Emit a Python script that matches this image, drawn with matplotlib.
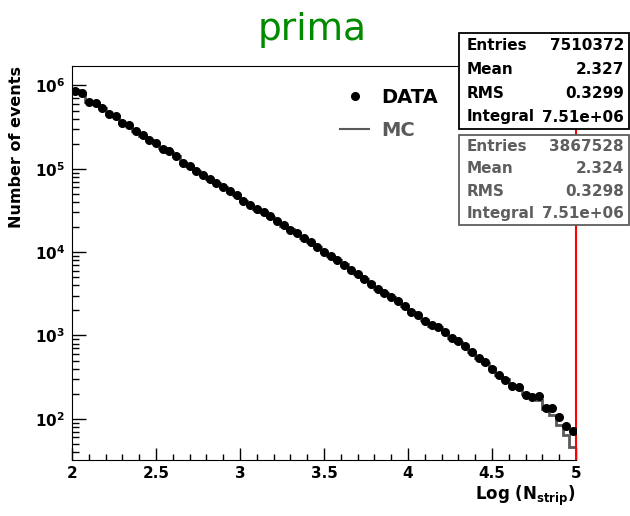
import numpy as np
import matplotlib
matplotlib.use('Agg')
import matplotlib.pyplot as plt
from matplotlib.patches import Rectangle
from matplotlib.lines import Line2D
from matplotlib.ticker import FuncFormatter, MultipleLocator, LogLocator, NullFormatter

# histogram binning: log10(N_strip) from 2 to 5
x_lo, x_hi, n_bins = 2.0, 5.0, 75

data_counts = [
    863000, 809000, 631000, 614000, 535000, 453000, 429000, 353000, 337000, 281000,
    251000, 221000, 203000, 174000, 162000, 141000, 117000, 107000, 93100, 84900,
    76000, 67500, 60400, 53600, 48000, 41400, 36400, 33200, 30000, 26900,
    23400, 20900, 18600, 16900, 14800, 13200, 11400, 10000, 9080, 7980,
    7080, 6170, 5470, 4760, 4190, 3650, 3240, 2870, 2570, 2240,
    1910, 1780, 1510, 1320, 1260, 1100, 933, 851, 741, 634,
    537, 476, 400, 339, 295, 250, 241, 195, 182, 187,
    135, 135, 104, 81, 71,
]
mc_counts = [
    870000, 800000, 640000, 610000, 530000, 458000, 425000, 356000, 335000, 283000,
    250000, 222000, 202000, 175000, 161000, 142000, 116000, 107000, 93500, 84500,
    76300, 67200, 60600, 53300, 48200, 41200, 36600, 33000, 30100, 26700,
    23600, 20800, 18700, 16800, 14900, 13100, 11500, 9950, 9100, 7950,
    7100, 6150, 5490, 4740, 4200, 3640, 3250, 2860, 2580, 2230,
    1920, 1760, 1520, 1310, 1250, 1090, 940, 845, 745, 630,
    540, 470, 402, 336, 297, 245, 235, 198, 180, 170,
    132, 110, 85, 63, 46,
]

title = 'prima'
x_label = r'Log (N$_{\mathbf{strip}}$)'
y_label = 'Number of events'
legend_labels = ['DATA', 'MC']
stat_names = ['Entries', 'Mean', 'RMS', 'Integral']
data_stats = ['7510372', '2.327', '0.3299', '7.51e+06']
mc_stats = ['3867528', '2.324', '0.3298', '7.51e+06']

mc_color = '#5a5a5a'

W, H = 630, 516
fig = plt.figure(figsize=(W / 100, H / 100), dpi=100)
# axes frame in pixels: left 72, right 576, top 66, bottom 460
ax = fig.add_axes([72 / W, 1 - 460 / H, (576 - 72) / W, (460 - 66) / H])

edges = np.linspace(x_lo, x_hi, n_bins + 1)
centers = 0.5 * (edges[:-1] + edges[1:])

ax.stairs(mc_counts, edges, baseline=None, color=mc_color, lw=2, zorder=2)
ax.plot(centers, data_counts, 'o', color='black', ms=5.5, zorder=3)
ax.spines['right'].set_color('red')
ax.spines['right'].set_linewidth(1.5)

ax.set_yscale('log')
ax.set_xlim(x_lo, x_hi)
ax.set_ylim(32, 1.71e6)

ax.xaxis.set_major_locator(MultipleLocator(0.5))
ax.xaxis.set_minor_locator(MultipleLocator(0.1))
ax.yaxis.set_major_locator(LogLocator(base=10))
ax.yaxis.set_minor_locator(LogLocator(base=10, subs=np.arange(2, 10)))
ax.yaxis.set_minor_formatter(NullFormatter())
ax.xaxis.set_major_formatter(FuncFormatter(lambda v, p: '%g' % v))
ax.yaxis.set_major_formatter(FuncFormatter(lambda v, p: r'$\mathbf{10^{%d}}$' % round(np.log10(v))))

ax.tick_params(which='both', direction='in', top=False, right=False, width=1)
ax.tick_params(axis='x', which='major', length=8.6, labelsize=11, pad=4)
ax.tick_params(axis='x', which='minor', length=4.3)
ax.tick_params(axis='y', which='major', length=10, labelsize=11, pad=5)
ax.tick_params(axis='y', which='minor', length=5)
for lab in ax.get_xticklabels() + ax.get_yticklabels():
    lab.set_fontweight('bold')

ax.set_xlabel(x_label, loc='right', fontsize=12, fontweight='bold')
ax.xaxis.set_label_coords(1.0, -0.06)
ax.set_ylabel(y_label, loc='top', fontsize=11.5, fontweight='bold', labelpad=8)

fig.text(312 / W, 1 - 30 / H, title, color='#008a00', fontsize=27,
         ha='center', va='center')

# legend
handles = [Line2D([], [], marker='o', ls='none', color='black', ms=5.5),
           Line2D([], [], color=mc_color, lw=1.5)]
leg = ax.legend(handles, legend_labels, loc='upper left',
                bbox_to_anchor=((340 - 72) / 504, (460 - 88) / 394),
                frameon=False, borderpad=0, borderaxespad=0,
                handlelength=1.5, handletextpad=0.6, labelspacing=0.7,
                prop={'size': 14, 'weight': 'bold'})
leg.get_texts()[1].set_color(mc_color)


# stats boxes
def stat_box(top, bottom, values, color):
    fig.patches.append(Rectangle((459 / W, 1 - bottom / H), (629 - 459) / W,
                                 (bottom - top) / H, transform=fig.transFigure,
                                 facecolor='white', edgecolor=color, lw=1.3,
                                 zorder=10))
    row_h = (bottom - top) / 4
    for i, (name, val) in enumerate(zip(stat_names, values)):
        y = 1 - (top + row_h * (i + 0.5)) / H
        fig.text(467 / W, y, name, color=color, fontsize=11, fontweight='bold',
                 ha='left', va='center', zorder=11)
        fig.text(624 / W, y, val, color=color, fontsize=11, fontweight='bold',
                 ha='right', va='center', zorder=11)


stat_box(33, 129, data_stats, 'black')
stat_box(135, 225, mc_stats, '#5e5e5e')

fig.savefig('out.png', dpi=100)
